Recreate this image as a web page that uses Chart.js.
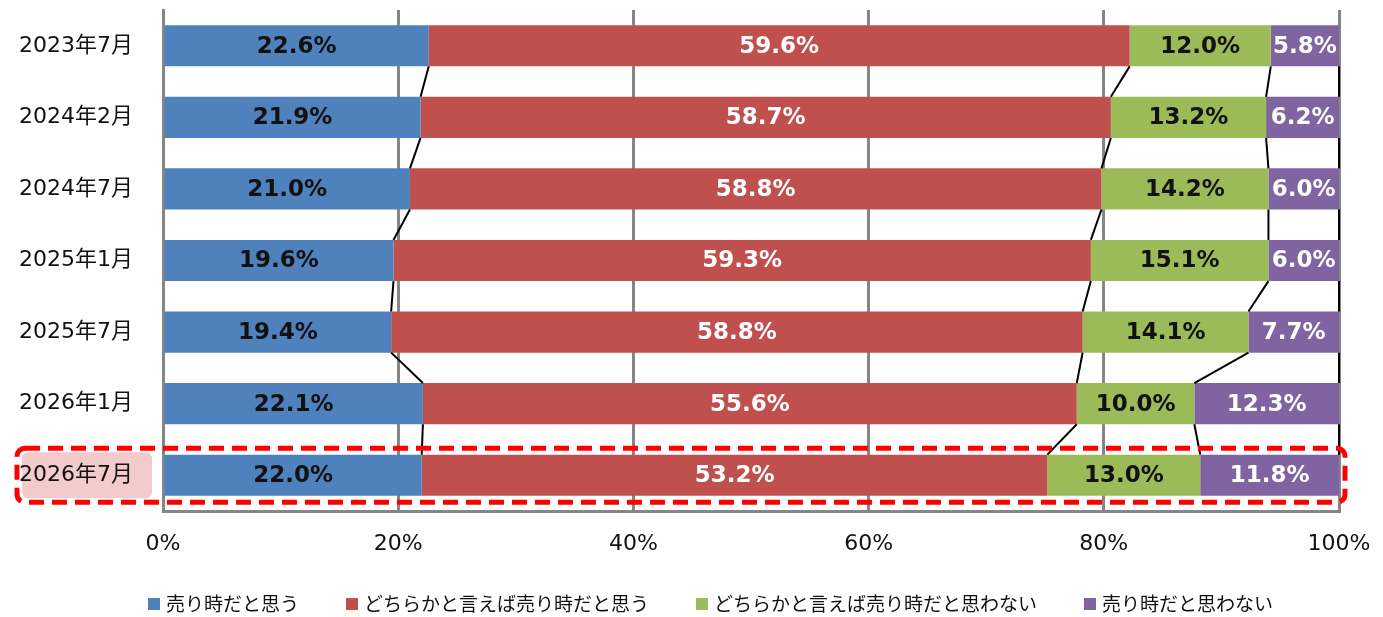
<!DOCTYPE html>
<html lang="ja">
<head>
<meta charset="utf-8">
<script src="https://cdn.jsdelivr.net/npm/chart.js@4.4.1/dist/chart.umd.min.js"></script>
<style>
  html, body { margin: 0; padding: 0; background: #fff; }
  #wrap { width: 1383px; height: 617px; }
</style>
</head>
<body>
<div id="wrap"><canvas id="chart"></canvas></div>
<script>
// 調査時期
const categories = ['2023年7月', '2024年2月', '2024年7月', '2025年1月', '2025年7月', '2026年1月', '2026年7月'];
const seriesNames = ['売り時だと思う', 'どちらかと言えば売り時だと思う', 'どちらかと言えば売り時だと思わない', '売り時だと思わない'];

// 回答の割合 (%)
const sellNow       = [22.6, 21.9, 21.0, 19.6, 19.4, 22.1, 22.0];
const ratherSell    = [59.6, 58.7, 58.8, 59.3, 58.8, 55.6, 53.2];
const ratherNotSell = [12.0, 13.2, 14.2, 15.1, 14.1, 10.0, 13.0];
const notSell       = [5.8, 6.2, 6.0, 6.0, 7.7, 12.3, 11.8];

const xTicks = [0, 20, 40, 60, 80, 100];

const colors = ['#4F81BD', '#C0504D', '#9BBB59', '#8064A2'];
const labelColors = ['#111111', '#ffffff', '#111111', '#ffffff'];
const highlightIndex = 6; // 強調する行 (2026年7月)

const baseFont = '"DejaVu Sans", "Noto Sans CJK JP", sans-serif';
const jpFont = '"Noto Sans CJK JP", sans-serif';

// 系列線 (各区切りを次の棒までつなぐ) + データラベル
const seriesLines = {
  id: 'seriesLines',
  afterDatasetsDraw(chart) {
    const ctx = chart.ctx;
    ctx.save();
    ctx.strokeStyle = '#000';
    ctx.lineWidth = 2;
    chart.data.datasets.forEach((ds, i) => {
      const bars = chart.getDatasetMeta(i).data;
      for (let j = 0; j < bars.length - 1; j++) {
        const a = bars[j], b = bars[j + 1];
        ctx.beginPath();
        ctx.moveTo(a.x, a.y + a.height / 2);
        ctx.lineTo(b.x, b.y - b.height / 2);
        ctx.stroke();
      }
    });
    ctx.font = 'bold 23px "DejaVu Sans", sans-serif';
    ctx.textAlign = 'center';
    ctx.textBaseline = 'middle';
    chart.data.datasets.forEach((ds, i) => {
      ctx.fillStyle = labelColors[i];
      chart.getDatasetMeta(i).data.forEach((bar, j) => {
        ctx.fillText(ds.data[j].toFixed(1) + '%', (bar.x + bar.base) / 2, bar.y + 1);
      });
    });
    ctx.restore();
  }
};

function roundRect(ctx, x, y, w, h, r) {
  ctx.beginPath();
  ctx.moveTo(x + r, y);
  ctx.arcTo(x + w, y, x + w, y + h, r);
  ctx.arcTo(x + w, y + h, x, y + h, r);
  ctx.arcTo(x, y + h, x, y, r);
  ctx.arcTo(x, y, x + w, y, r);
  ctx.closePath();
}

// 強調表示 (ピンク背景 + 赤い破線枠)
const highlight = {
  id: 'highlight',
  beforeDraw(chart) {
    const ctx = chart.ctx;
    const yc = chart.scales.y.getPixelForValue(highlightIndex);
    ctx.save();
    ctx.fillStyle = '#f4cbcb';
    roundRect(ctx, 22, yc - 23, 130, 46, 6);
    ctx.fill();
    ctx.restore();
  },
  afterDraw(chart) {
    const ctx = chart.ctx;
    const yc = chart.scales.y.getPixelForValue(highlightIndex);
    ctx.save();
    ctx.strokeStyle = '#ff0000';
    ctx.lineWidth = 5;
    ctx.setLineDash([15, 8]);
    roundRect(ctx, 17, yc - 27, chart.chartArea.right + 6 - 17, 54, 8);
    ctx.stroke();
    ctx.restore();
  }
};

// 凡例 (下部)
const bottomLegend = {
  id: 'bottomLegend',
  afterDraw(chart) {
    const ctx = chart.ctx;
    ctx.save();
    ctx.font = '19px ' + jpFont;
    ctx.textBaseline = 'middle';
    ctx.textAlign = 'left';
    let x = 148;
    const y = 604;
    chart.data.datasets.forEach((ds) => {
      ctx.fillStyle = ds.backgroundColor;
      ctx.fillRect(x, y - 6, 12, 12);
      ctx.fillStyle = '#111';
      ctx.fillText(ds.label, x + 18, y);
      x += 18 + ctx.measureText(ds.label).width + 47;
    });
    ctx.restore();
  }
};

const ctx = document.getElementById('chart').getContext('2d');

const chart = new Chart(ctx, {
  type: 'bar',
  data: {
    labels: categories,
    datasets: [sellNow, ratherSell, ratherNotSell, notSell].map((d, i) => ({
      label: seriesNames[i],
      data: d,
      backgroundColor: colors[i],
      borderWidth: 0,
      barPercentage: 0.575,
      categoryPercentage: 1
    }))
  },
  options: {
    indexAxis: 'y',
    responsive: true,
    maintainAspectRatio: false,
    animation: false,
    layout: { padding: { top: 10, right: 44, left: 0, bottom: 0 } },
    plugins: {
      legend: { display: false },
      tooltip: { enabled: false }
    },
    scales: {
      x: {
        stacked: true,
        min: 0,
        max: 100,
        afterBuildTicks: (scale) => { scale.ticks = xTicks.map(v => ({ value: v })); },
        ticks: {
          callback: (v) => v + '%',
          font: { family: baseFont, size: 22 },
          color: '#111',
          padding: 20,
          maxRotation: 0
        },
        grid: { color: '#868686', lineWidth: 3, drawTicks: false },
        border: { display: true, color: '#868686', width: 3 },
        afterFit: (scale) => {
          scale.height = 106;
          scale.paddingLeft = 0;
          scale.paddingRight = 0;
        }
      },
      y: {
        stacked: true,
        grid: { display: false },
        border: { display: true, color: '#868686', width: 3 },
        ticks: {
          font: { family: baseFont, size: 22 },
          color: '#111',
          padding: 22
        },
        afterFit: (scale) => {
          scale.width = 163;
          scale.paddingTop = 0;
          scale.paddingBottom = 0;
        }
      }
    }
  },
  plugins: [highlight, seriesLines, bottomLegend]
});
</script>
</body>
</html>
